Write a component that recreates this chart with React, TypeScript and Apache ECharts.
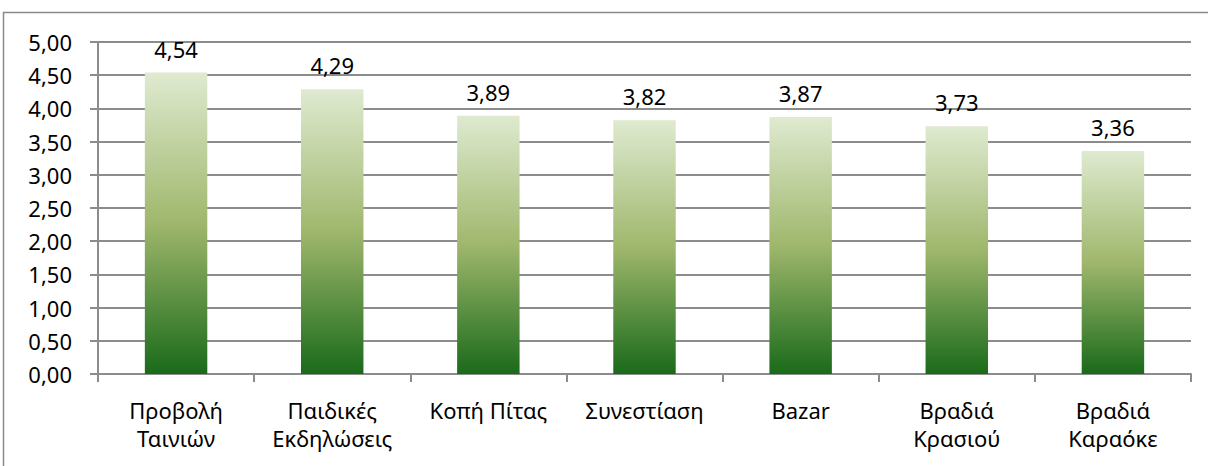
import React, { useEffect, useRef } from "react";
import * as echarts from "echarts";

const categories = [
  "Προβολή\nΤαινιών",
  "Παιδικές\nΕκδηλώσεις",
  "Κοπή Πίτας",
  "Συνεστίαση",
  "Bazar",
  "Βραδιά\nΚρασιού",
  "Βραδιά\nΚαραόκε",
];
const values = [4.54, 4.29, 3.89, 3.82, 3.87, 3.73, 3.36];
const yMin = 0;
const yMax = 5;
const yStep = 0.5;

const FONT = "'Noto Sans', 'Open Sans', sans-serif";

export default function App() {
  const ref = useRef<HTMLDivElement>(null);
  useEffect(() => {
    if (!ref.current) return;
    const chart = echarts.init(ref.current, undefined, { renderer: "svg" });
    chart.setOption({
      animation: false,
      backgroundColor: "#ffffff",
      textStyle: { fontFamily: FONT },
      graphic: [
        {
          type: "rect",
          shape: { x: 3.5, y: 12.5, width: 1240, height: 480 },
          style: { fill: "none", stroke: "#8a8a8a", lineWidth: 1.5 },
          silent: true,
          z: -10,
        },
      ],
      grid: { left: 98, right: 17, top: 42, bottom: 92, containLabel: false },
      xAxis: {
        type: "category",
        data: categories,
        axisLine: { show: true, lineStyle: { color: "#8c8c8c", width: 2 } },
        axisTick: { show: true, alignWithLabel: false, length: 8, lineStyle: { color: "#8c8c8c", width: 2 } },
        axisLabel: {
          color: "#000",
          fontSize: 22,
          fontFamily: FONT,
          lineHeight: 28,
          margin: 22,
          verticalAlign: "top",
          interval: 0,
        },
      },
      yAxis: {
        type: "value",
        min: yMin,
        max: yMax,
        interval: yStep,
        axisLine: { show: true, lineStyle: { color: "#8c8c8c", width: 2 } },
        axisTick: { show: true, length: 8, lineStyle: { color: "#8c8c8c", width: 2 } },
        splitLine: { show: true, lineStyle: { color: "#8c8c8c", width: 2 } },
        axisLabel: {
          color: "#000",
          fontSize: 22,
          fontFamily: FONT,
          margin: 26,
          formatter: (v: number) => v.toFixed(2).replace(".", ","),
        },
      },
      series: [
        {
          type: "bar",
          data: values,
          barWidth: "40%",
          itemStyle: {
            color: new echarts.graphic.LinearGradient(0, 0, 0, 1, [
              { offset: 0, color: "#dfead0" },
              { offset: 0.5, color: "#9fb76c" },
              { offset: 1, color: "#1a6a1a" },
            ]),
          },
          label: {
            show: true,
            position: "top",
            distance: 13,
            color: "#000",
            fontSize: 22,
            fontFamily: FONT,
            formatter: (p: any) => Number(p.value).toFixed(2).replace(".", ","),
          },
        },
      ],
    });
    return () => chart.dispose();
  }, []);
  return <div ref={ref} style={{ width: 1208, height: 466, position: "absolute", left: 0, top: 0 }} />;
}
